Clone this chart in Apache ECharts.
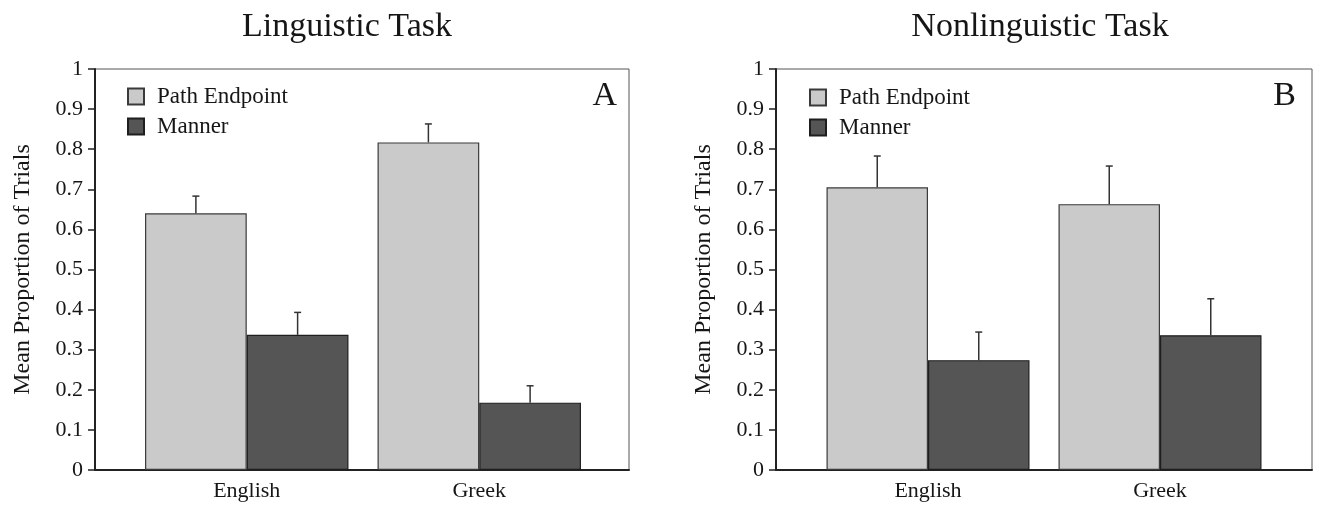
<!DOCTYPE html>
<html>
<head>
<meta charset="utf-8">
<script src="https://cdn.jsdelivr.net/npm/echarts@6/dist/echarts.min.js"></script>
<style>
  html, body { margin: 0; padding: 0; background: #fff; }
  #chart { width: 1320px; height: 506px; }
</style>
</head>
<body>
<div id="chart"></div>
<script>
// Languages on the x axis
const languages = ['English', 'Greek'];

// Linguistic task: mean proportion of trials and error (upper bar only)
const linguisticPath = [0.640, 0.817];
const linguisticPathErr = [0.043, 0.046];
const linguisticManner = [0.337, 0.168];
const linguisticMannerErr = [0.056, 0.042];

// Nonlinguistic task
const nonlinguisticPath = [0.705, 0.663];
const nonlinguisticPathErr = [0.078, 0.095];
const nonlinguisticManner = [0.274, 0.336];
const nonlinguisticMannerErr = [0.070, 0.091];

const FONT = '"Liberation Serif", "Times New Roman", serif';
const TEXT = '#161616';
const LIGHT = '#cacaca';
const DARK = '#555555';
const GAP = 0.125; // barCategoryGap as fraction

// Error bar renderer: vertical whisker from bar top up to value + err, with a small cap.
function errorRenderer(sign) {
  return function (params, api) {
    const cat = api.value(0);
    const v = api.value(1);
    const e = api.value(2);
    const top = api.coord([cat, v + e]);
    const base = api.coord([cat, v]);
    const band = api.size([1, 0])[0];
    const barW = band * (1 - GAP) / 2;
    const x = top[0] + sign * barW / 2;
    const style = { stroke: '#333', lineWidth: 1.5 };
    return {
      type: 'group',
      children: [
        { type: 'line', shape: { x1: x, y1: base[1], x2: x, y2: top[1] }, style },
        { type: 'line', shape: { x1: x - 3.5, y1: top[1], x2: x + 3.5, y2: top[1] }, style }
      ]
    };
  };
}

function errData(vals, errs) {
  return vals.map((v, i) => [i, v, errs[i]]);
}

function frameAxes(gridIndex) {
  return {
    x: {
      type: 'value', gridIndex, min: 0, max: 1,
      axisLine: { show: true, lineStyle: { color: '#222', width: 2 } },
      axisTick: { show: false }, axisLabel: { show: false }, splitLine: { show: false }
    },
    y: {
      type: 'value', gridIndex, min: 0, max: 1, interval: 0.1,
      name: 'Mean Proportion of Trials', nameLocation: 'middle', nameGap: 60,
      nameTextStyle: { fontFamily: FONT, fontSize: 24, color: TEXT },
      axisLine: { show: true, lineStyle: { color: '#222', width: 2 } },
      axisTick: { show: true, length: 7, lineStyle: { color: '#222', width: 1.5 } },
      axisLabel: {
        margin: 12, fontFamily: FONT, fontSize: 22, color: TEXT,
        formatter: v => (Math.round(v * 10) / 10).toString()
      },
      splitLine: { show: false }
    }
  };
}

function catAxes(gridIndex) {
  return {
    x: {
      type: 'category', gridIndex, data: languages,
      axisLine: { show: false }, axisTick: { show: false },
      axisLabel: { margin: 10, fontFamily: FONT, fontSize: 22, color: TEXT }
    },
    y: { type: 'value', gridIndex, min: 0, max: 1, show: false }
  };
}

const fL = frameAxes(0), cL = catAxes(1), fR = frameAxes(2), cR = catAxes(3);

function barSeries(name, data, color, border, axisIdx) {
  return {
    type: 'bar', name, data,
    xAxisIndex: axisIdx, yAxisIndex: axisIdx,
    barGap: '0%', barCategoryGap: (GAP * 100) + '%',
    itemStyle: { color, borderColor: border, borderWidth: 1.2 },
    emphasis: { disabled: true },
    animation: false
  };
}

function errSeries(vals, errs, sign, axisIdx) {
  return {
    type: 'custom', data: errData(vals, errs),
    xAxisIndex: axisIdx, yAxisIndex: axisIdx,
    renderItem: errorRenderer(sign), z: 5, silent: true, animation: false
  };
}

const legendCommon = {
  orient: 'vertical', icon: 'rect', itemWidth: 16, itemHeight: 16, itemGap: 7,
  selectedMode: false,
  textStyle: { fontFamily: FONT, fontSize: 23, color: TEXT, padding: [0, 0, 0, 8] },
  data: ['Path Endpoint', 'Manner']
};

const option = {
  backgroundColor: '#fff',
  animation: false,
  title: [
    { text: 'Linguistic Task', left: 347, top: 10, padding: 0, textAlign: 'center',
      textStyle: { fontFamily: FONT, fontSize: 34, fontWeight: 'normal', color: TEXT } },
    { text: 'Nonlinguistic Task', left: 1040, top: 10, padding: 0, textAlign: 'center',
      textStyle: { fontFamily: FONT, fontSize: 34, fontWeight: 'normal', color: TEXT } },
    { text: 'A', left: 617, top: 79, padding: 0, textAlign: 'right',
      textStyle: { fontFamily: FONT, fontSize: 34, fontWeight: 'normal', color: TEXT } },
    { text: 'B', left: 1296, top: 79, padding: 0, textAlign: 'right',
      textStyle: { fontFamily: FONT, fontSize: 34, fontWeight: 'normal', color: TEXT } }
  ],
  legend: [
    Object.assign({ left: 122, top: 80 }, legendCommon),
    Object.assign({ left: 804, top: 81 }, legendCommon)
  ],
  grid: [
    { left: 95, top: 69, width: 534, height: 401, show: true, borderColor: '#555', borderWidth: 1, backgroundColor: 'transparent' },
    { left: 130.5, top: 69, width: 465, height: 401 },
    { left: 776, top: 69, width: 536, height: 401, show: true, borderColor: '#555', borderWidth: 1, backgroundColor: 'transparent' },
    { left: 812, top: 69, width: 464, height: 401 }
  ],
  xAxis: [fL.x, cL.x, fR.x, cR.x],
  yAxis: [fL.y, cL.y, fR.y, cR.y],
  series: [
    barSeries('Path Endpoint', linguisticPath, LIGHT, '#3a3a3a', 1),
    barSeries('Manner', linguisticManner, DARK, '#1e1e1e', 1),
    errSeries(linguisticPath, linguisticPathErr, -1, 1),
    errSeries(linguisticManner, linguisticMannerErr, 1, 1),
    barSeries('Path Endpoint', nonlinguisticPath, LIGHT, '#3a3a3a', 3),
    barSeries('Manner', nonlinguisticManner, DARK, '#1e1e1e', 3),
    errSeries(nonlinguisticPath, nonlinguisticPathErr, -1, 3),
    errSeries(nonlinguisticManner, nonlinguisticMannerErr, 1, 3)
  ]
};

const chart = echarts.init(document.getElementById('chart'), null, { renderer: 'canvas' });
chart.setOption(option);
</script>
</body>
</html>
